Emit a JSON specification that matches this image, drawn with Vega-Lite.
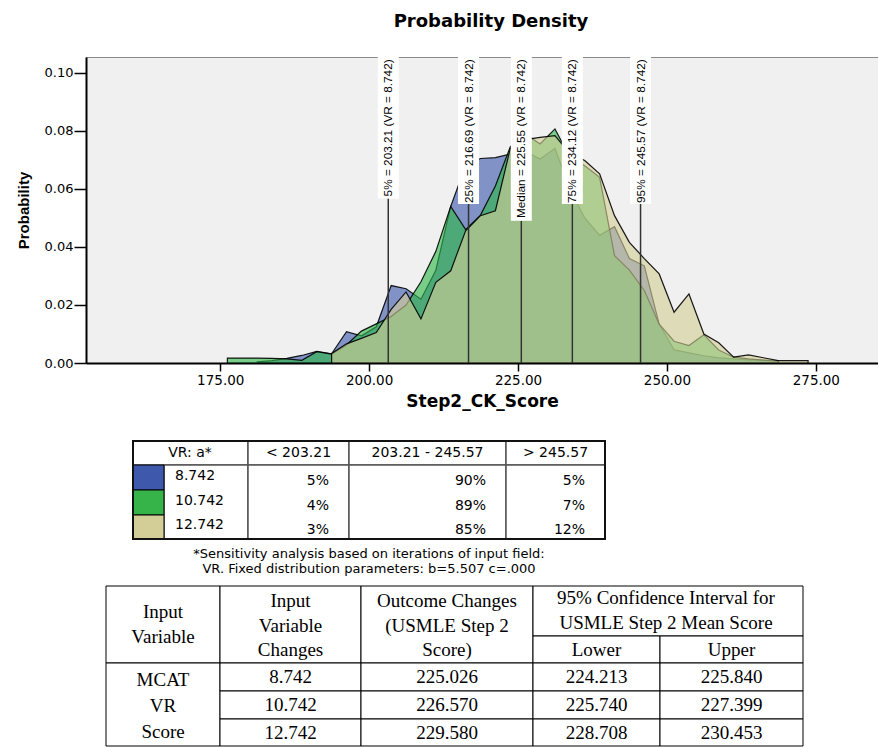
{
 "$schema": "https://vega.github.io/schema/vega-lite/v6.json",
 "background": "white",
 "padding": {"left": 15, "top": 12, "right": 0, "bottom": 0},
 "spacing": 30,
 "config": {
  "view": {"stroke": null},
  "axisX": {"domainColor": "black", "domainWidth": 2, "tickColor": "black", "tickWidth": 1.5, "tickSize": 8, "labelFont": "DejaVu Sans", "labelFontSize": 13.5, "labelColor": "black", "labelPadding": 2, "titleFont": "DejaVu Sans", "titleFontWeight": "bold", "titleFontSize": 17, "titleColor": "black", "titlePadding": 7, "grid": false, "labelFlush": false},
  "axisY": {"domainColor": "black", "domainWidth": 2, "tickColor": "black", "tickWidth": 1.5, "tickSize": 12, "labelFont": "DejaVu Sans", "labelFontSize": 13, "labelColor": "black", "labelPadding": 1, "titleFont": "Liberation Sans", "titleFontWeight": "bold", "titleFontSize": 15, "titleColor": "black", "titlePadding": 13, "grid": false}
 },
 "datasets": {
  "dens": [
   {"s":181.2,"p":0.0004,"vr":"8.742"},{"s":183.7,"p":0.0008,"vr":"8.742"},{"s":186.2,"p":0.0016,"vr":"8.742"},{"s":188.7,"p":0.0026,"vr":"8.742"},{"s":191.2,"p":0.004,"vr":"8.742"},{"s":193.7,"p":0.0032,"vr":"8.742"},{"s":196.2,"p":0.0108,"vr":"8.742"},{"s":198.7,"p":0.0094,"vr":"8.742"},{"s":201.2,"p":0.0125,"vr":"8.742"},{"s":203.7,"p":0.0267,"vr":"8.742"},{"s":206.2,"p":0.0256,"vr":"8.742"},{"s":208.7,"p":0.022,"vr":"8.742"},{"s":211.2,"p":0.032,"vr":"8.742"},{"s":213.7,"p":0.054,"vr":"8.742"},{"s":216.2,"p":0.068,"vr":"8.742"},{"s":218.7,"p":0.0705,"vr":"8.742"},{"s":221.2,"p":0.0708,"vr":"8.742"},{"s":223.7,"p":0.072,"vr":"8.742"},{"s":226.2,"p":0.073,"vr":"8.742"},{"s":228.7,"p":0.0703,"vr":"8.742"},{"s":231.2,"p":0.074,"vr":"8.742"},{"s":233.7,"p":0.06,"vr":"8.742"},{"s":236.2,"p":0.05,"vr":"8.742"},{"s":238.7,"p":0.044,"vr":"8.742"},{"s":241.2,"p":0.047,"vr":"8.742"},{"s":243.7,"p":0.036,"vr":"8.742"},{"s":246.2,"p":0.0335,"vr":"8.742"},{"s":248.7,"p":0.0134,"vr":"8.742"},{"s":251.2,"p":0.0045,"vr":"8.742"},{"s":253.7,"p":0.0035,"vr":"8.742"},{"s":256.2,"p":0.0025,"vr":"8.742"},{"s":258.7,"p":0.0018,"vr":"8.742"},{"s":261.2,"p":0.0014,"vr":"8.742"},{"s":263.7,"p":0.0011,"vr":"8.742"},{"s":266.2,"p":0.0009,"vr":"8.742"},{"s":268.7,"p":0.0007,"vr":"8.742"},
   {"s":176.2,"p":0.0017,"vr":"10.742"},{"s":178.7,"p":0.0017,"vr":"10.742"},{"s":181.2,"p":0.0017,"vr":"10.742"},{"s":183.7,"p":0.0016,"vr":"10.742"},{"s":186.2,"p":0.0014,"vr":"10.742"},{"s":188.7,"p":0.0009,"vr":"10.742"},{"s":191.2,"p":0.0039,"vr":"10.742"},{"s":193.7,"p":0.0031,"vr":"10.742"},{"s":196.2,"p":0.0062,"vr":"10.742"},{"s":198.7,"p":0.011,"vr":"10.742"},{"s":201.2,"p":0.0135,"vr":"10.742"},{"s":203.7,"p":0.016,"vr":"10.742"},{"s":206.2,"p":0.02,"vr":"10.742"},{"s":208.7,"p":0.028,"vr":"10.742"},{"s":211.2,"p":0.0385,"vr":"10.742"},{"s":213.7,"p":0.054,"vr":"10.742"},{"s":216.2,"p":0.046,"vr":"10.742"},{"s":218.7,"p":0.051,"vr":"10.742"},{"s":221.2,"p":0.061,"vr":"10.742"},{"s":223.7,"p":0.0745,"vr":"10.742"},{"s":226.2,"p":0.079,"vr":"10.742"},{"s":228.7,"p":0.0755,"vr":"10.742"},{"s":231.2,"p":0.0807,"vr":"10.742"},{"s":233.7,"p":0.071,"vr":"10.742"},{"s":236.2,"p":0.068,"vr":"10.742"},{"s":238.7,"p":0.064,"vr":"10.742"},{"s":241.2,"p":0.037,"vr":"10.742"},{"s":243.7,"p":0.032,"vr":"10.742"},{"s":246.2,"p":0.025,"vr":"10.742"},{"s":248.7,"p":0.0134,"vr":"10.742"},{"s":251.2,"p":0.0075,"vr":"10.742"},{"s":253.7,"p":0.006,"vr":"10.742"},{"s":256.2,"p":0.0097,"vr":"10.742"},{"s":258.7,"p":0.0045,"vr":"10.742"},{"s":261.2,"p":0.002,"vr":"10.742"},{"s":263.7,"p":0.0014,"vr":"10.742"},{"s":266.2,"p":0.001,"vr":"10.742"},{"s":268.7,"p":0.0007,"vr":"10.742"},
   {"s":193.7,"p":0.0033,"vr":"12.742"},{"s":196.2,"p":0.0066,"vr":"12.742"},{"s":198.7,"p":0.0085,"vr":"12.742"},{"s":201.2,"p":0.0105,"vr":"12.742"},{"s":203.7,"p":0.0185,"vr":"12.742"},{"s":206.2,"p":0.0245,"vr":"12.742"},{"s":208.7,"p":0.0152,"vr":"12.742"},{"s":211.2,"p":0.0278,"vr":"12.742"},{"s":213.7,"p":0.0318,"vr":"12.742"},{"s":216.2,"p":0.0456,"vr":"12.742"},{"s":218.7,"p":0.0508,"vr":"12.742"},{"s":221.2,"p":0.0525,"vr":"12.742"},{"s":223.7,"p":0.074,"vr":"12.742"},{"s":226.2,"p":0.077,"vr":"12.742"},{"s":228.7,"p":0.0778,"vr":"12.742"},{"s":231.2,"p":0.0784,"vr":"12.742"},{"s":233.7,"p":0.0722,"vr":"12.742"},{"s":236.2,"p":0.0698,"vr":"12.742"},{"s":238.7,"p":0.0652,"vr":"12.742"},{"s":241.2,"p":0.0508,"vr":"12.742"},{"s":243.7,"p":0.0416,"vr":"12.742"},{"s":246.2,"p":0.036,"vr":"12.742"},{"s":248.7,"p":0.0307,"vr":"12.742"},{"s":251.2,"p":0.0175,"vr":"12.742"},{"s":253.7,"p":0.0238,"vr":"12.742"},{"s":256.2,"p":0.01,"vr":"12.742"},{"s":258.7,"p":0.007,"vr":"12.742"},{"s":261.2,"p":0.002,"vr":"12.742"},{"s":263.7,"p":0.0028,"vr":"12.742"},{"s":266.2,"p":0.0018,"vr":"12.742"},{"s":268.7,"p":0.0008,"vr":"12.742"},{"s":271.2,"p":0.0008,"vr":"12.742"},{"s":273.7,"p":0.0008,"vr":"12.742"}
  ],
  "pct": [
   {"label": "5% = 203.21 (VR = 8.742)", "v": 203.21},
   {"label": "25% = 216.69 (VR = 8.742)", "v": 216.69},
   {"label": "Median = 225.55 (VR = 8.742)", "v": 225.55},
   {"label": "75% = 234.12 (VR = 8.742)", "v": 234.12},
   {"label": "95% = 245.57 (VR = 8.742)", "v": 245.57}
  ],
  "legCells": [
   {"c0":0,"c1":2,"r0":0,"r1":1},{"c0":2,"c1":3,"r0":0,"r1":1},{"c0":3,"c1":4,"r0":0,"r1":1},{"c0":4,"c1":5,"r0":0,"r1":1},
   {"c0":1,"c1":2,"r0":1,"r1":4},{"c0":2,"c1":3,"r0":1,"r1":4},{"c0":3,"c1":4,"r0":1,"r1":4},{"c0":4,"c1":5,"r0":1,"r1":4}
  ],
  "legRows": [
   {"vr":"8.742","c0":0,"c1":1,"r0":1,"r1":2},{"vr":"10.742","c0":0,"c1":1,"r0":2,"r1":3},{"vr":"12.742","c0":0,"c1":1,"r0":3,"r1":4}
  ],
  "legHead": [
   {"t":"< 203.21","c0":2,"c1":3},{"t":"203.21 - 245.57","c0":3,"c1":4},{"t":"> 245.57","c0":4,"c1":5}
  ],
  "legPct": [
   {"r0":1,"r1":2,"c1":3,"t":"5%"},{"r0":1,"r1":2,"c1":4,"t":"90%"},{"r0":1,"r1":2,"c1":5,"t":"5%"},
   {"r0":2,"r1":3,"c1":3,"t":"4%"},{"r0":2,"r1":3,"c1":4,"t":"89%"},{"r0":2,"r1":3,"c1":5,"t":"7%"},
   {"r0":3,"r1":4,"c1":3,"t":"3%"},{"r0":3,"r1":4,"c1":4,"t":"85%"},{"r0":3,"r1":4,"c1":5,"t":"12%"}
  ],
  "tab": [
   {"g":"h2","c0":0,"c1":1,"r0":0,"r1":2,"t":["Input","Variable"]},
   {"g":"h3","c0":1,"c1":2,"r0":0,"r1":2,"t":["Input","Variable","Changes"]},
   {"g":"h3","c0":2,"c1":3,"r0":0,"r1":2,"t":["Outcome Changes","(USMLE Step 2","Score)"]},
   {"g":"c2","c0":3,"c1":5,"r0":0,"r1":1,"t":["95% Confidence Interval for","USMLE Step 2 Mean Score"]},
   {"g":"c","c0":3,"c1":4,"r0":1,"r1":2,"t":"Lower"},
   {"g":"c","c0":4,"c1":5,"r0":1,"r1":2,"t":"Upper"},
   {"g":"m","c0":0,"c1":1,"r0":2,"r1":5,"t":["MCAT","VR","Score"]},
   {"g":"c","c0":1,"c1":2,"r0":2,"r1":3,"t":"8.742"},
   {"g":"c","c0":2,"c1":3,"r0":2,"r1":3,"t":"225.026"},
   {"g":"c","c0":3,"c1":4,"r0":2,"r1":3,"t":"224.213"},
   {"g":"c","c0":4,"c1":5,"r0":2,"r1":3,"t":"225.840"},
   {"g":"c","c0":1,"c1":2,"r0":3,"r1":4,"t":"10.742"},
   {"g":"c","c0":2,"c1":3,"r0":3,"r1":4,"t":"226.570"},
   {"g":"c","c0":3,"c1":4,"r0":3,"r1":4,"t":"225.740"},
   {"g":"c","c0":4,"c1":5,"r0":3,"r1":4,"t":"227.399"},
   {"g":"c","c0":1,"c1":2,"r0":4,"r1":5,"t":"12.742"},
   {"g":"c","c0":2,"c1":3,"r0":4,"r1":5,"t":"229.580"},
   {"g":"c","c0":3,"c1":4,"r0":4,"r1":5,"t":"228.708"},
   {"g":"c","c0":4,"c1":5,"r0":4,"r1":5,"t":"230.453"}
  ],
  "foot": [
   {"k": 0, "t": ["*Sensitivity analysis based on iterations of input field:", "VR. Fixed distribution parameters: b=5.507 c=.000"]}
  ]
 },
 "vconcat": [
  {
   "width": 792, "height": 306,
   "view": {"fill": "#f0f0f0", "stroke": "#8a8a8a", "strokeWidth": 1},
   "title": {"text": "Probability Density", "font": "DejaVu Sans", "fontSize": 18, "fontWeight": "bold", "color": "black", "anchor": "middle", "baseline": "alphabetic", "offset": 12, "dx": 9},
   "layer": [
    {
     "data": {"name": "dens"},
     "transform": [{"filter": "datum.vr === '8.742'"}],
     "mark": {"type": "area", "fill": "#3e58ac", "fillOpacity": 0.62, "stroke": "black", "strokeWidth": 1.2, "strokeOpacity": 0.9, "interpolate": "linear"},
     "encoding": {
      "x": {"field": "s", "type": "quantitative", "title": "Step2_CK_Score", "scale": {"domain": [153.3, 284.6], "nice": false, "zero": false}, "axis": {"values": [175, 200, 225, 250, 275], "format": ".2f"}},
      "y": {"field": "p", "type": "quantitative", "title": "Probability", "scale": {"domain": [0, 0.1055], "nice": false, "zero": false}, "axis": {"values": [0, 0.02, 0.04, 0.06, 0.08, 0.1], "format": ".2f"}}
     }
    },
    {
     "data": {"name": "dens"},
     "transform": [{"filter": "datum.vr === '10.742'"}],
     "mark": {"type": "area", "fill": "#2eb848", "fillOpacity": 0.62, "stroke": "black", "strokeWidth": 1.2, "strokeOpacity": 0.9, "interpolate": "linear"},
     "encoding": {
      "x": {"field": "s", "type": "quantitative", "title": "Step2_CK_Score"},
      "y": {"field": "p", "type": "quantitative", "title": "Probability"}
     }
    },
    {
     "data": {"name": "dens"},
     "transform": [{"filter": "datum.vr === '12.742'"}],
     "mark": {"type": "area", "fill": "#d3ce97", "fillOpacity": 0.62, "stroke": "black", "strokeWidth": 1.2, "strokeOpacity": 0.9, "interpolate": "linear"},
     "encoding": {
      "x": {"field": "s", "type": "quantitative", "title": "Step2_CK_Score"},
      "y": {"field": "p", "type": "quantitative", "title": "Probability"}
     }
    },
    {
     "data": {"name": "pct"},
     "transform": [{"calculate": "0.1055 - (length(datum.label) * 5.6 + 7) / 2900", "as": "bot"}, {"calculate": "0.1055", "as": "top"}],
     "mark": {"type": "rule", "color": "#333333", "strokeWidth": 1.5},
     "encoding": {
      "x": {"field": "v", "type": "quantitative", "title": "Step2_CK_Score"},
      "y": {"field": "bot", "type": "quantitative", "title": "Probability"}
     }
    },
    {
     "data": {"name": "pct"},
     "transform": [{"calculate": "0.1055 - (length(datum.label) * 5.6 + 7) / 2900", "as": "bot"}, {"calculate": "0.1055", "as": "top"}],
     "mark": {"type": "bar", "fill": "white", "size": 21},
     "encoding": {
      "x": {"field": "v", "type": "quantitative", "title": "Step2_CK_Score"},
      "y": {"field": "bot", "type": "quantitative", "title": "Probability"},
      "y2": {"field": "top"}
     }
    },
    {
     "data": {"name": "pct"},
     "transform": [{"calculate": "0.1047", "as": "ty"}],
     "mark": {"type": "text", "angle": 270, "align": "right", "baseline": "middle", "font": "Liberation Sans", "fontSize": 11.8, "color": "black"},
     "encoding": {
      "x": {"field": "v", "type": "quantitative", "title": "Step2_CK_Score"},
      "y": {"field": "ty", "type": "quantitative", "title": "Probability"},
      "text": {"field": "label"}
     }
    }
   ]
  },
  {
   "spacing": 0,
   "vconcat": [
    {
     "width": 792, "height": 98,
     "layer": [
      {
       "data": {"name": "legCells"},
       "mark": {"type": "rect", "fill": "white", "stroke": "#555555", "strokeWidth": 1.5},
       "encoding": {
        "x": {"field": "c0", "type": "quantitative", "scale": {"domain": [0,1,2,3,4,5], "range": [47,78,162,263,420,519], "nice": false, "zero": false}, "axis": null},
        "x2": {"field": "c1"},
        "y": {"field": "r0", "type": "quantitative", "scale": {"domain": [0,1,2,3,4], "range": [0,24,49,74,98], "nice": false, "zero": false}, "axis": null},
        "y2": {"field": "r1"}
       }
      },
      {
       "data": {"name": "legRows"},
       "mark": {"type": "rect", "stroke": "black", "strokeWidth": 1},
       "encoding": {
        "x": {"field": "c0", "type": "quantitative", "axis": null},
        "x2": {"field": "c1"},
        "y": {"field": "r0", "type": "quantitative", "axis": null},
        "y2": {"field": "r1"},
        "fill": {"field": "vr", "type": "nominal", "scale": {"domain": ["8.742", "10.742", "12.742"], "range": ["#3e58ac", "#36b44a", "#d3ce97"]}, "legend": null}
       }
      },
      {
       "data": {"values": [{"c0": 0, "c1": 5, "r0": 0, "r1": 4}]},
       "mark": {"type": "rect", "fill": null, "stroke": "#111111", "strokeWidth": 2},
       "encoding": {
        "x": {"field": "c0", "type": "quantitative", "axis": null},
        "x2": {"field": "c1"},
        "y": {"field": "r0", "type": "quantitative", "axis": null},
        "y2": {"field": "r1"}
       }
      },
      {
       "data": {"name": "legHead"},
       "transform": [{"calculate": "(datum.c0 + datum.c1) / 2", "as": "cm"}, {"calculate": "0.5", "as": "rm"}],
       "mark": {"type": "text", "font": "DejaVu Sans", "fontSize": 14, "align": "center", "baseline": "middle", "color": "black"},
       "encoding": {
        "x": {"field": "cm", "type": "quantitative", "axis": null},
        "y": {"field": "rm", "type": "quantitative", "axis": null},
        "text": {"field": "t"}
       }
      },
      {
       "data": {"values": [{"t": "VR: a*", "cm": 1, "rm": 0.5}]},
       "mark": {"type": "text", "font": "DejaVu Sans", "fontSize": 14, "align": "center", "baseline": "middle", "color": "black", "dx": 26},
       "encoding": {
        "x": {"field": "cm", "type": "quantitative", "axis": null},
        "y": {"field": "rm", "type": "quantitative", "axis": null},
        "text": {"field": "t"}
       }
      },
      {
       "data": {"name": "legRows"},
       "transform": [{"calculate": "(datum.r0 + datum.r1) / 2", "as": "rm"}],
       "mark": {"type": "text", "font": "DejaVu Sans", "fontSize": 14, "align": "left", "baseline": "middle", "color": "black", "dx": 11, "dy": -2},
       "encoding": {
        "x": {"field": "c1", "type": "quantitative", "axis": null},
        "y": {"field": "rm", "type": "quantitative", "axis": null},
        "text": {"field": "vr"}
       }
      },
      {
       "data": {"name": "legPct"},
       "transform": [{"calculate": "(datum.r0 + datum.r1) / 2", "as": "rm"}],
       "mark": {"type": "text", "font": "DejaVu Sans", "fontSize": 14, "align": "right", "baseline": "middle", "color": "black", "dx": -20, "dy": 3},
       "encoding": {
        "x": {"field": "c1", "type": "quantitative", "axis": null},
        "y": {"field": "rm", "type": "quantitative", "axis": null},
        "text": {"field": "t"}
       }
      }
     ]
    },
    {
     "width": 792, "height": 45,
     "data": {"name": "foot"},
     "mark": {"type": "text", "font": "DejaVu Sans", "fontSize": 13, "lineHeight": 14.5, "align": "center", "baseline": "middle", "color": "black"},
     "encoding": {
      "x": {"field": "k", "type": "quantitative", "scale": {"domain": [-1, 1], "range": [47, 519], "nice": false, "zero": false}, "axis": null},
      "y": {"field": "k", "type": "quantitative", "scale": {"domain": [-1, 1], "range": [0, 28], "nice": false, "zero": false}, "axis": null},
      "text": {"field": "t"}
     }
    },
    {
     "width": 792, "height": 160,
     "layer": [
      {
       "data": {"name": "tab"},
       "mark": {"type": "rect", "fill": "white", "stroke": "black", "strokeWidth": 1},
       "encoding": {
        "x": {"field": "c0", "type": "quantitative", "scale": {"domain": [0,1,2,3,4,5], "range": [20,134,275,447,574,717], "nice": false, "zero": false}, "axis": null},
        "x2": {"field": "c1"},
        "y": {"field": "r0", "type": "quantitative", "scale": {"domain": [0,1,2,3,4,5], "range": [0,50,77,105,133,160], "nice": false, "zero": false}, "axis": null},
        "y2": {"field": "r1"}
       }
      },
      {
       "data": {"name": "tab"},
       "transform": [{"filter": "datum.g === 'c'"}, {"calculate": "(datum.c0 + datum.c1) / 2", "as": "cm"}, {"calculate": "(datum.r0 + datum.r1) / 2", "as": "rm"}],
       "mark": {"type": "text", "font": "Liberation Serif", "fontSize": 19, "lineHeight": 24.5, "align": "center", "baseline": "middle", "color": "black"},
       "encoding": {
        "x": {"field": "cm", "type": "quantitative", "axis": null},
        "y": {"field": "rm", "type": "quantitative", "axis": null},
        "text": {"field": "t"}
       }
      },
      {
       "data": {"name": "tab"},
       "transform": [{"filter": "datum.g === 'c2'"}, {"calculate": "(datum.c0 + datum.c1) / 2", "as": "cm"}, {"calculate": "(datum.r0 + datum.r1) / 2", "as": "rm"}],
       "mark": {"type": "text", "font": "Liberation Serif", "fontSize": 19, "lineHeight": 24.5, "align": "center", "baseline": "middle", "color": "black", "dy": -13, "dx": 6},
       "encoding": {
        "x": {"field": "cm", "type": "quantitative", "axis": null},
        "y": {"field": "rm", "type": "quantitative", "axis": null},
        "text": {"field": "t"}
       }
      },
      {
       "data": {"name": "tab"},
       "transform": [{"filter": "datum.g === 'h2'"}, {"calculate": "(datum.c0 + datum.c1) / 2", "as": "cm"}, {"calculate": "(datum.r0 + datum.r1) / 2", "as": "rm"}],
       "mark": {"type": "text", "font": "Liberation Serif", "fontSize": 19, "lineHeight": 24.5, "align": "center", "baseline": "middle", "color": "black", "dy": -24},
       "encoding": {
        "x": {"field": "cm", "type": "quantitative", "axis": null},
        "y": {"field": "rm", "type": "quantitative", "axis": null},
        "text": {"field": "t"}
       }
      },
      {
       "data": {"name": "tab"},
       "transform": [{"filter": "datum.g === 'h3'"}, {"calculate": "(datum.c0 + datum.c1) / 2", "as": "cm"}, {"calculate": "(datum.r0 + datum.r1) / 2", "as": "rm"}],
       "mark": {"type": "text", "font": "Liberation Serif", "fontSize": 19, "lineHeight": 24.5, "align": "center", "baseline": "middle", "color": "black", "dy": -35},
       "encoding": {
        "x": {"field": "cm", "type": "quantitative", "axis": null},
        "y": {"field": "rm", "type": "quantitative", "axis": null},
        "text": {"field": "t"}
       }
      },
      {
       "data": {"name": "tab"},
       "transform": [{"filter": "datum.g === 'm'"}, {"calculate": "(datum.c0 + datum.c1) / 2", "as": "cm"}, {"calculate": "(datum.r0 + datum.r1) / 2", "as": "rm"}],
       "mark": {"type": "text", "font": "Liberation Serif", "fontSize": 19, "lineHeight": 26, "align": "center", "baseline": "middle", "color": "black", "dy": -25},
       "encoding": {
        "x": {"field": "cm", "type": "quantitative", "axis": null},
        "y": {"field": "rm", "type": "quantitative", "axis": null},
        "text": {"field": "t"}
       }
      }
     ]
    }
   ]
  }
 ]
}
